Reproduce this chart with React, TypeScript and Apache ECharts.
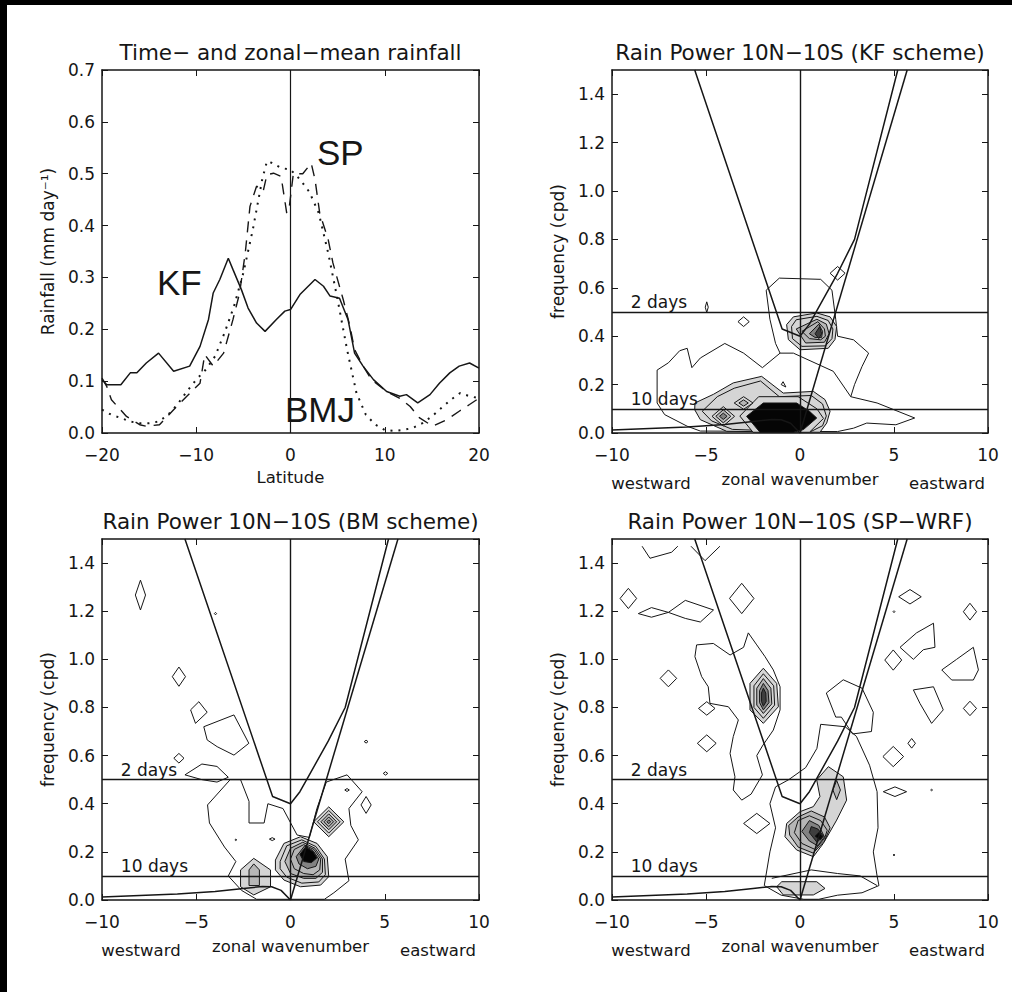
import React, { useEffect, useRef } from "react";
import * as echarts from "echarts";

/* ---------------- panel (a): time- and zonal-mean rainfall ---------------- */
const kfLat = [-20, -19.5, -18, -17, -16.3, -15.3, -14, -12.4, -10.7, -9.6, -8.7, -8.2, -7.5, -6.6, -6.1, -5.2, -4.5, -3.6, -2.7, -1.5, -0.6, 0, 1, 2.6, 3.5, 4.2, 5.2, 6.1, 6.8, 7.7, 8.8, 10.2, 11.6, 12.3, 13.5, 14.8, 15.8, 16.9, 17.9, 19, 20];
const kfRain = [0.103, 0.093, 0.093, 0.116, 0.116, 0.135, 0.154, 0.119, 0.129, 0.167, 0.219, 0.27, 0.296, 0.337, 0.315, 0.276, 0.241, 0.212, 0.196, 0.219, 0.235, 0.238, 0.267, 0.296, 0.283, 0.264, 0.26, 0.219, 0.154, 0.129, 0.103, 0.08, 0.071, 0.074, 0.058, 0.074, 0.096, 0.116, 0.129, 0.135, 0.125];

const spLat = [-20, -19.5, -19, -17.4, -16, -15.3, -13.9, -12.4, -11, -9.6, -9.1, -8.2, -7.1, -6.1, -5.4, -4.8, -4.3, -3.6, -2.9, -2.5, -1.8, -1, -0.4, -0.1, 0.3, 1.3, 2.2, 2.6, 3.1, 4, 4.5, 5.1, 5.6, 6.3, 6.8, 7.7, 8.6, 10.2, 11.6, 12.7, 13.7, 15.1, 16.6, 17.9, 19, 20];
const spRain = [0.106, 0.09, 0.064, 0.032, 0.016, 0.013, 0.016, 0.045, 0.071, 0.096, 0.151, 0.129, 0.154, 0.219, 0.27, 0.347, 0.437, 0.476, 0.466, 0.498, 0.501, 0.495, 0.424, 0.44, 0.5, 0.5, 0.52, 0.489, 0.424, 0.373, 0.328, 0.289, 0.257, 0.206, 0.161, 0.129, 0.103, 0.08, 0.067, 0.051, 0.029, 0.013, 0.026, 0.042, 0.055, 0.067];

const bmjLat = [-20, -19, -18, -17, -16, -15, -14, -13, -12, -11, -10, -9, -8, -7, -6, -5, -4, -3, -2.5, -2, -1, 0, 1, 2, 3, 4, 5, 6, 7, 8, 9, 10, 11, 12, 13, 14, 15, 16, 17, 18, 19, 20];
const bmjRain = [0.045, 0.035, 0.029, 0.022, 0.019, 0.019, 0.022, 0.035, 0.055, 0.08, 0.103, 0.122, 0.148, 0.193, 0.244, 0.309, 0.392, 0.489, 0.524, 0.521, 0.511, 0.508, 0.489, 0.465, 0.424, 0.347, 0.257, 0.161, 0.077, 0.035, 0.016, 0.006, 0.004, 0.006, 0.01, 0.019, 0.032, 0.048, 0.064, 0.077, 0.071, 0.067];

const seriesNames = ["KF", "SP", "BMJ"];

/* ---------------- wavenumber-frequency panels ---------------- */
const periodFreqs = [0.5, 0.1];
const periodLabels = ["2 days", "10 days"];

// theoretical dispersion curves (zonal wavenumber, cpd)
const westCurve = [[-5.6, 1.5], [-0.95, 0.43], [0, 0.4]];
const eastCurve = [[0, 0.4], [0.5, 0.45], [1, 0.52], [2, 0.66], [2.9, 0.8], [5.2, 1.5]];
const kelvinCurve = [[0, 0], [5.7, 1.5]];
const rossbyCurve = [[-10, 0.012], [-6, 0.025], [-4, 0.035], [-2.5, 0.048], [-1.5, 0.056], [-1, 0.055], [-0.5, 0.04], [0, 0]];

// contours: [level, points]; level -1 = open line, 0 = line, 1..5 = shading
const kfContours = [
  [0, [[-7.6, 0.124], [-7.6, 0.26], [-7.0, 0.29], [-6.4, 0.34], [-6.0, 0.35], [-5.75, 0.27], [-5.3, 0.31], [-4.0, 0.37], [-3.0, 0.33], [-2.0, 0.27], [-1.06, 0.33], [-1.3, 0.37], [-1.6, 0.47], [-1.8, 0.59], [-1.1, 0.64], [1.1, 0.635], [1.7, 0.59], [1.9, 0.47], [2.0, 0.4], [2.85, 0.385], [3.65, 0.33], [3.3, 0.275], [2.9, 0.2], [2.7, 0.15], [4.1, 0.124], [6.1, 0.062], [5.1, 0.034], [3.55, 0.041], [2.85, 0.02], [2.0, 0.006], [-5.3, 0.008], [-6.0, 0.028], [-7.2, 0.076]]],
  [-1, [[-1.06, 0.33], [-0.35, 0.33], [1.77, 0.255], [2.7, 0.15]]],
  [1, [[-5.6, 0.096], [-5.59, 0.124], [-4.6, 0.16], [-3.55, 0.207], [-2.04, 0.234], [-0.89, 0.165], [0.71, 0.172], [1.33, 0.138], [1.6, 0.09], [1.42, 0.041], [1.06, 0.003], [-3.9, 0.007], [-5.3, 0.055]]],
  [1, [[-5.2, 0.09], [-4.4, 0.15], [-3.5, 0.185], [-2.1, 0.215], [-1.1, 0.15], [0.6, 0.155], [1.2, 0.12], [1.4, 0.07], [1.2, 0.03], [0.5, 0.003], [-3.6, 0.015], [-4.7, 0.05]]],
  [1, [[-3.2, 0.07], [-2.2, 0.15], [-0.1, 0.15], [0.9, 0.1], [1.25, 0.06], [0.5, 0.003], [-2.5, 0.003]]],
  [5, [[-2.84, 0.069], [-1.95, 0.124], [-0.18, 0.124], [0.5, 0.09], [0.89, 0.062], [0.18, 0.014], [-0.35, 0.003], [-2.13, 0.003]]],
  [1, [[-0.71, 0.448], [-0.35, 0.48], [0.89, 0.496], [1.6, 0.48], [1.95, 0.44], [1.86, 0.386], [1.5, 0.35], [0, 0.344], [-0.62, 0.386]]],
  [1, [[-0.45, 0.44], [-0.2, 0.468], [0.9, 0.482], [1.5, 0.465], [1.75, 0.43], [1.7, 0.39], [1.35, 0.36], [0.1, 0.358], [-0.4, 0.39]]],
  [2, [[-0.2, 0.43], [0.9, 0.47], [1.4, 0.45], [1.55, 0.41], [1.3, 0.375], [0.3, 0.372]]],
  [2, [[0.1, 0.42], [0.95, 0.46], [1.3, 0.43], [1.35, 0.4], [1.1, 0.385], [0.5, 0.39]]],
  [3, [[0.5, 0.41], [1.0, 0.45], [1.2, 0.42], [1.15, 0.395], [0.8, 0.395]]],
  [4, [[0.8, 0.41], [1.05, 0.44], [1.15, 0.41], [1.0, 0.39]]],
  [0, [[-1.0, 0.2], [-0.75, 0.19], [-0.9, 0.212]]],
];
// diamonds: [k, f, half-width, half-height, level]
const kfDiamonds = [
  [-4.08, 0.069, 0.6, 0.04, 1], [-4.08, 0.069, 0.4, 0.027, 2], [-4.08, 0.069, 0.2, 0.013, 3],
  [-3.0, 0.124, 0.5, 0.026, 1], [-3.0, 0.124, 0.25, 0.013, 2],
  [-3.0, 0.46, 0.3, 0.02, 0], [2.0, 0.66, 0.4, 0.028, 0], [-4.96, 0.52, 0.08, 0.022, 0],
];

const bmContours = [
  [0, [[-4.4, 0.395], [-3.2, 0.5], [-2.65, 0.5], [-2.2, 0.41], [-2.2, 0.32], [-1.4, 0.32], [-1.2, 0.4], [-0.4, 0.38], [0.35, 0.27], [1.0, 0.26], [1.4, 0.38], [1.9, 0.49], [3.0, 0.52], [3.8, 0.45], [3.1, 0.38], [3.2, 0.31], [3.6, 0.25], [2.9, 0.17], [3.1, 0.08], [2.3, 0.03], [1.8, 0.003], [-1.8, 0.003], [-2.6, 0.04], [-3.3, 0.1], [-2.9, 0.16], [-3.5, 0.22], [-4.3, 0.32]]],
  [0, [[-4.6, 0.72], [-3.0, 0.769], [-2.21, 0.651], [-3.0, 0.602], [-3.89, 0.637], [-4.42, 0.665]]],
  [0, [[-5.3, 0.79], [-4.86, 0.824], [-4.42, 0.78], [-5.04, 0.734]]],
  [0, [[-5.6, 0.52], [-4.7, 0.565], [-3.9, 0.555], [-3.3, 0.51], [-3.9, 0.49], [-4.7, 0.5]]],
  [1, [[-2.65, 0.125], [-1.95, 0.173], [-1.06, 0.125], [-1.06, 0.055], [-1.95, 0.021], [-2.65, 0.055]]],
  [2, [[-2.2, 0.125], [-1.95, 0.15], [-1.65, 0.125], [-1.65, 0.06], [-2.2, 0.06]]],
  [1, [[-0.8, 0.166], [-0.35, 0.235], [0.53, 0.263], [1.41, 0.235], [1.95, 0.18], [2.03, 0.097], [1.6, 0.062], [0.53, 0.055], [-0.35, 0.083], [-0.8, 0.125]]],
  [1, [[-0.55, 0.16], [-0.2, 0.225], [0.6, 0.25], [1.35, 0.222], [1.8, 0.17], [1.85, 0.105], [1.5, 0.075], [0.6, 0.07], [-0.2, 0.095], [-0.55, 0.13]]],
  [2, [[-0.3, 0.16], [0.0, 0.215], [0.65, 0.24], [1.3, 0.215], [1.7, 0.17], [1.7, 0.115], [1.35, 0.09], [0.7, 0.09], [0.0, 0.11]]],
  [2, [[0.0, 0.17], [0.2, 0.21], [0.7, 0.23], [1.25, 0.21], [1.6, 0.17], [1.55, 0.125], [1.2, 0.105], [0.7, 0.11], [0.2, 0.13]]],
  [3, [[0.3, 0.18], [0.75, 0.225], [1.2, 0.205], [1.5, 0.17], [1.35, 0.14], [0.9, 0.13], [0.45, 0.15]]],
  [5, [[0.5, 0.19], [0.8, 0.22], [1.2, 0.2], [1.4, 0.175], [1.1, 0.155], [0.7, 0.16]]],
];
const bmDiamonds = [
  [-7.96, 1.267, 0.27, 0.062, 0], [-3.98, 1.19, 0.06, 0.005, 0], [-5.92, 0.928, 0.35, 0.04, 0],
  [-5.92, 0.589, 0.27, 0.02, 0], [4.01, 0.395, 0.27, 0.035, 0], [3.0, 0.457, 0.12, 0.006, 0],
  [5.04, 0.526, 0.12, 0.007, 0], [4.01, 0.658, 0.1, 0.006, 0], [-0.97, 0.253, 0.15, 0.006, 0],
  [-2.9, 0.25, 0.05, 0.003, 0],
  [2.03, 0.325, 0.8, 0.062, 1], [2.03, 0.325, 0.6, 0.047, 1], [2.03, 0.325, 0.42, 0.033, 2],
  [2.03, 0.325, 0.25, 0.02, 2], [2.03, 0.325, 0.1, 0.008, 3],
];

const spContours = [
  [-1, [[-8.4, 1.47], [-7.98, 1.42], [-6.83, 1.445], [-6.5, 1.47]]],
  [-1, [[-5.8, 1.47], [-5.05, 1.41], [-4.26, 1.47]]],
  [0, [[-8.6, 1.19], [-7.9, 1.215], [-7.0, 1.195], [-7.9, 1.175]]],
  [0, [[-7.0, 1.195], [-6.1, 1.245], [-4.6, 1.205], [-5.3, 1.155], [-6.1, 1.17]]],
  [0, [[-2.75, 1.11], [-2.3, 1.06], [-1.86, 1.011], [-1.42, 0.956], [-1.06, 0.886], [-1.06, 0.79], [-1.42, 0.706], [-2.0, 0.64], [-2.3, 0.6], [-2.0, 0.52], [-2.6, 0.44], [-3.1, 0.415], [-3.55, 0.457], [-3.46, 0.512], [-3.72, 0.609], [-3.55, 0.679], [-3.28, 0.748], [-3.81, 0.803], [-4.79, 0.817], [-4.88, 0.886], [-5.23, 0.928], [-5.59, 1.011], [-5.5, 1.06], [-4.61, 1.066], [-3.72, 1.018], [-3.0, 1.05]]],
  [0, [[-1.3, 0.47], [-0.6, 0.5], [0.3, 0.55], [0.9, 0.63], [1.1, 0.73], [2.4, 0.72], [3.0, 0.68], [3.7, 0.56], [4.1, 0.45], [4.15, 0.3], [3.9, 0.2], [4.1, 0.1], [4.2, 0.06], [3.3, 0.03], [2.0, 0.02], [1.0, 0.003], [0.2, 0.003], [-1.0, 0.02], [-1.9, 0.06], [-1.6, 0.2], [-1.3, 0.3], [-1.6, 0.4]]],
  [-1, [[-1.5, 0.09], [0.6, 0.125], [2.0, 0.11], [3.2, 0.1], [4.1, 0.06]]],
  [0, [[1.4, 0.86], [2.3, 0.915], [3.3, 0.88], [3.9, 0.78], [3.8, 0.7], [2.8, 0.69], [2.2, 0.76], [1.9, 0.76]]],
  [1, [[-1.24, 0.055], [-0.97, 0.076], [0.89, 0.076], [1.33, 0.048], [0.71, 0.021], [-0.89, 0.021]]],
  [0, [[5.32, 1.05], [6.2, 1.11], [7.1, 1.15], [7.18, 1.05], [6.56, 1.04], [6.03, 1.0]]],
  [0, [[7.54, 0.956], [8.33, 1.0], [9.22, 1.05], [9.49, 0.956], [9.22, 0.914], [8.07, 0.914]]],
  [0, [[6.03, 0.873], [7.1, 0.886], [7.62, 0.79], [7.0, 0.734], [6.38, 0.817]]],
  [1, [[-2.66, 0.9], [-1.95, 0.963], [-1.24, 0.9], [-1.15, 0.803], [-1.95, 0.734], [-2.66, 0.79]]],
  [1, [[-2.45, 0.89], [-1.95, 0.94], [-1.4, 0.89], [-1.35, 0.81], [-1.95, 0.755], [-2.45, 0.8]]],
  [2, [[-2.3, 0.88], [-1.95, 0.92], [-1.55, 0.88], [-1.5, 0.815], [-1.95, 0.775], [-2.3, 0.81]]],
  [3, [[-2.15, 0.87], [-1.95, 0.9], [-1.7, 0.87], [-1.65, 0.82], [-1.95, 0.79], [-2.15, 0.82]]],
  [4, [[-2.05, 0.86], [-1.95, 0.88], [-1.82, 0.86], [-1.8, 0.825], [-1.95, 0.805], [-2.05, 0.825]]],
  [1, [[0.89, 0.499], [1.51, 0.554], [2.3, 0.512], [2.48, 0.415], [1.95, 0.332], [1.24, 0.235], [0.71, 0.18], [-0.18, 0.208], [-0.8, 0.263], [-0.71, 0.318], [0, 0.367], [0.71, 0.388], [1.06, 0.43]]],
  [2, [[-0.55, 0.27], [-0.1, 0.22], [0.7, 0.195], [1.3, 0.245], [1.6, 0.3], [1.3, 0.345], [0.6, 0.37], [-0.1, 0.345], [-0.6, 0.31]]],
  [2, [[-0.3, 0.28], [0.1, 0.235], [0.8, 0.21], [1.3, 0.255], [1.45, 0.29], [1.1, 0.33], [0.5, 0.35], [-0.1, 0.33]]],
  [3, [[0.1, 0.285], [0.5, 0.245], [0.95, 0.225], [1.3, 0.262], [1.0, 0.31], [0.5, 0.33]]],
  [4, [[0.5, 0.28], [0.9, 0.24], [1.25, 0.265], [0.95, 0.295], [0.6, 0.305]]],
  [5, [[0.8, 0.265], [1.1, 0.25], [1.2, 0.265], [1.0, 0.28]]],
];
const spDiamonds = [
  [-9.13, 1.253, 0.44, 0.042, 0], [-3.1, 1.253, 0.65, 0.063, 0], [-7.0, 0.921, 0.44, 0.035, 0],
  [-4.96, 0.796, 0.44, 0.028, 0], [-4.96, 0.651, 0.5, 0.035, 0], [-2.3, 0.318, 0.7, 0.042, 0],
  [5.85, 1.26, 0.6, 0.03, 0], [9.04, 1.198, 0.35, 0.035, 0], [5.0, 1.198, 0.05, 0.004, 0],
  [4.96, 0.997, 0.45, 0.042, 0], [9.04, 0.796, 0.35, 0.03, 0], [5.94, 0.651, 0.2, 0.02, 0],
  [4.96, 0.596, 0.55, 0.042, 0], [5.05, 0.45, 0.62, 0.02, 0], [7.0, 0.457, 0.05, 0.003, 0],
  [5.0, 0.187, 0.05, 0.003, 0], [1.95, 0.457, 0.2, 0.04, 2],
];

const panelTitles = [
  "Time− and zonal−mean rainfall",
  "Rain Power 10N−10S (KF scheme)",
  "Rain Power 10N−10S (BM scheme)",
  "Rain Power 10N−10S (SP−WRF)",
];

/* ---------------- rendering ---------------- */
const FONT = '"DejaVu Sans", "Noto Sans", sans-serif';
const INK = "#161616";
const LEVEL_FILL: Record<string, string> = { "-1": "none", "0": "none", "1": "#d5d5d5", "2": "#b6b6b6", "3": "#828282", "4": "#3e3e3e", "5": "#050505" };

const GRIDS = [
  { left: 102, top: 70, width: 377, height: 363 },
  { left: 612, top: 70, width: 376, height: 363 },
  { left: 102, top: 539, width: 377, height: 361 },
  { left: 612, top: 539, width: 376, height: 361 },
];

function diamondToContour(d: number[]) {
  const [k, f, w, h, lv] = d;
  return [lv, [[k - w, f], [k, f + h], [k + w, f], [k, f - h]]];
}

function fmtSigned(v: number) {
  return v < 0 ? "\u2212" + Math.abs(v) : String(v);
}

function buildOption() {
  const xAxis: any[] = [];
  const yAxis: any[] = [];
  const series: any[] = [];
  const axisLine = { show: true, onZero: false, lineStyle: { color: INK, width: 1.5 } };
  const axisTick = { show: true, inside: true, length: 6, lineStyle: { color: INK, width: 1 } };
  const label = { fontFamily: FONT, fontSize: 17, color: INK };

  GRIDS.forEach((_, i) => {
    const rain = i === 0;
    const xr = rain ? { min: -20, max: 20, interval: 10 } : { min: -10, max: 10, interval: 5 };
    const yr = rain ? { min: 0, max: 0.7, interval: 0.1 } : { min: 0, max: 1.5, interval: 0.2 };
    xAxis.push({ type: "value", gridIndex: i, position: "bottom", ...xr, axisLine, axisTick, splitLine: { show: false },
      axisLabel: { ...label, margin: 13, formatter: (v: number) => fmtSigned(v) } });
    xAxis.push({ type: "value", gridIndex: i, position: "top", ...xr, axisLine, axisTick, splitLine: { show: false }, axisLabel: { show: false } });
    yAxis.push({ type: "value", gridIndex: i, position: "left", ...yr, axisLine, axisTick, splitLine: { show: false },
      axisLabel: { ...label, margin: 7, showMaxLabel: rain, formatter: (v: number) => v.toFixed(1) } });
    yAxis.push({ type: "value", gridIndex: i, position: "right", ...yr, axisLine, axisTick, splitLine: { show: false }, axisLabel: { show: false } });
  });

  // panel (a)
  const lines = [
    { lat: kfLat, val: kfRain, type: "solid", width: 1.5 },
    { lat: spLat, val: spRain, type: [11, 8], width: 1.4 },
    { lat: bmjLat, val: bmjRain, type: [2, 6], width: 2 },
  ];
  lines.forEach((l, j) => {
    series.push({
      type: "line", name: seriesNames[j], xAxisIndex: 0, yAxisIndex: 0, symbol: "none", silent: true,
      data: l.lat.map((x, k) => [x, l.val[k]]),
      lineStyle: { color: INK, width: l.width, type: l.type as any },
      markLine: j === 0 ? { silent: true, symbol: ["none", "none"], label: { show: false }, lineStyle: { color: INK, width: 1.2, type: "solid" }, data: [{ xAxis: 0 }] } : undefined,
    });
  });

  // spectral panels
  const panelContours = [kfContours, bmContours, spContours];
  const panelDiamonds = [kfDiamonds, bmDiamonds, spDiamonds];
  [1, 2, 3].forEach((g, p) => {
    const xi = g * 2, yi = g * 2;
    const list: any[] = [...panelContours[p], ...panelDiamonds[p].map(diamondToContour)];
    series.push({
      type: "custom", xAxisIndex: xi, yAxisIndex: yi, silent: true, clip: true,
      data: list.map((c, idx) => [c[1][0][0], c[1][0][1], idx]),
      renderItem: (params: any, api: any) => {
        const c = list[api.value(2)];
        const pts = c[1].map((pt: number[]) => api.coord(pt));
        const open = c[0] < 0;
        return {
          type: open ? "polyline" : "polygon",
          shape: { points: pts },
          style: { fill: open ? "none" : LEVEL_FILL[String(c[0])], stroke: INK, lineWidth: 1 },
        };
      },
    });
    const curves = [westCurve, eastCurve, kelvinCurve, rossbyCurve];
    curves.forEach((cv, ci) => {
      series.push({
        type: "line", xAxisIndex: xi, yAxisIndex: yi, symbol: "none", silent: true, clip: true, data: cv,
        lineStyle: { color: INK, width: 1.5 },
        markLine: ci === 0 ? {
          silent: true, symbol: ["none", "none"], label: { show: false },
          lineStyle: { color: INK, width: 1.4, type: "solid" },
          data: [{ xAxis: 0 }, ...periodFreqs.map((f) => ({ yAxis: f }))],
        } : undefined,
      });
    });
    series.push({
      type: "scatter", xAxisIndex: xi, yAxisIndex: yi, symbolSize: 0, silent: true,
      itemStyle: { opacity: 1, color: INK },
      data: periodFreqs.map((f, j) => ({ value: [-9, f], label: { formatter: periodLabels[j] } })),
      label: { show: true, position: "right", distance: 0, offset: [0, -10], fontFamily: FONT, fontSize: 17, color: INK, opacity: 1 },
    });
  });

  const txt = (text: string, x: number, y: number, size: number, align = "center", rotation = 0, family = FONT) => ({
    type: "text", x, y, rotation, silent: true,
    style: { text, x: 0, y: 0, fill: INK, font: `${size}px ${family}`, textAlign: align, textVerticalAlign: "middle" },
  });

  const graphic: any[] = [
    { type: "rect", shape: { x: 0, y: 0, width: 1012, height: 5 }, style: { fill: "#000" }, silent: true },
    { type: "rect", shape: { x: 0, y: 0, width: 7, height: 992 }, style: { fill: "#000" }, silent: true },
  ];
  GRIDS.forEach((gr, i) => {
    const cx = gr.left + gr.width / 2;
    const cy = gr.top + gr.height / 2;
    const bottom = gr.top + gr.height;
    graphic.push(txt(panelTitles[i], cx, gr.top - 18, 21.5));
    graphic.push(txt(i === 0 ? "Rainfall (mm day\u207B\u00B9)" : "frequency (cpd)", gr.left - 54, cy, 17, "center", Math.PI / 2));
    if (i === 0) {
      graphic.push(txt("Latitude", cx, bottom + 44, 16.5));
    } else {
      graphic.push(txt("westward", gr.left + 39, bottom + 50, 16.5));
      graphic.push(txt("zonal wavenumber", cx, bottom + 46, 16.5));
      graphic.push(txt("eastward", gr.left + gr.width - 41, bottom + 50, 16.5));
    }
  });
  const ARIAL = '"Liberation Sans", Arial, sans-serif';
  graphic.push(txt(seriesNames[0], 157, 282, 35, "left", 0, ARIAL));
  graphic.push(txt(seriesNames[1], 317, 152, 35, "left", 0, ARIAL));
  graphic.push(txt(seriesNames[2], 285, 409, 35, "left", 0, ARIAL));

  return {
    animation: false,
    backgroundColor: "#ffffff",
    grid: GRIDS.map((g) => ({ ...g, containLabel: false })),
    xAxis, yAxis, series, graphic,
  };
}

export default function App() {
  const ref = useRef<HTMLDivElement>(null);
  useEffect(() => {
    if (!ref.current) return;
    const chart = echarts.init(ref.current, null, { renderer: "svg" });
    chart.setOption(buildOption() as any);
    return () => chart.dispose();
  }, []);
  return <div ref={ref} style={{ position: "fixed", left: 0, top: 0, width: 1012, height: 992, background: "#fff" }} />;
}
